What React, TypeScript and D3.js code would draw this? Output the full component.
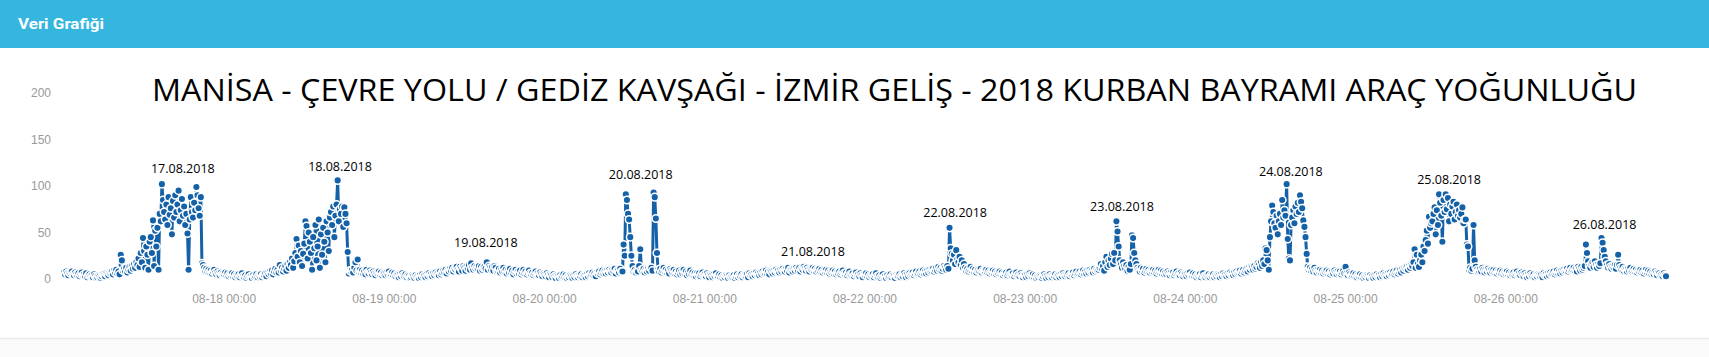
import React from 'react';
import * as d3 from 'd3';

// 10-minute samples, 144 per day (6 per hour)
const d17 = [
  7,5,8,6,4,7, 6,8,5,4,7,5, 4,6,3,5,7,4, 5,3,6,2,4,5,
  3,4,2,5,3,1, 2,4,3,1,3,5, 4,3,6,5,4,7, 6,8,5,9,7,10,
  6,8,5,26,20,9, 11,8,12,7,10,13, 9,14,11,16,12,18, 15,22,13,28,18,44,
  30,12,35,26,10,40, 45,28,63,14,52,35, 55,10,70,62,102,85, 72,64,80,58,88,69,
  76,48,84,66,90,72, 80,95,62,74,86,68, 78,58,70,49,10,64, 88,72,66,82,74,99,
  90,76,68,88,17,15, 12,9,11,8,10,7, 9,6,8,10,7,5, 8,6,4,7,5,6,
];
const d18 = [
  5,7,4,6,3,5, 4,6,3,5,2,4, 3,5,2,4,6,3, 2,4,1,3,5,2,
  3,1,4,2,3,5, 2,4,3,5,2,4, 4,6,3,7,5,8, 6,9,5,8,11,7,
  10,7,15,9,12,8, 11,14,9,16,12,18, 15,22,12,19,28,43, 24,36,18,30,14,27,
  38,62,57,22,50,40, 28,10,45,33,58,20, 35,64,12,48,26,55, 40,18,62,50,30,66,
  72,58,78,45,68,80, 106,62,75,70,78,56, 77,70,60,29,6,9, 8,10,7,12,18,9,
  21,8,10,7,9,6, 8,5,10,7,6,9, 7,5,8,6,4,7, 6,8,5,7,4,6,
];
const d19 = [
  6,4,7,5,8,5, 5,7,4,6,3,5, 4,2,5,3,6,4, 3,5,2,4,3,1,
  2,4,3,1,4,2, 3,1,4,2,5,3, 4,2,5,3,6,4, 5,3,6,4,7,5,
  6,4,8,5,7,9, 7,10,6,9,8,11, 9,12,8,11,10,13, 10,8,13,11,9,14,
  12,9,14,11,15,10, 17,12,10,14,11,13, 11,14,9,13,10,12, 13,11,18,10,14,12,
  10,13,9,14,12,8, 9,11,7,10,8,12, 8,10,6,9,7,11, 7,9,5,8,10,6,
  8,6,9,5,7,10, 6,8,5,7,9,6, 5,7,4,6,8,5, 6,4,7,5,3,6,
];
const d20 = [
  5,3,6,4,2,5, 4,2,5,3,1,4, 3,1,4,2,3,5, 2,4,1,3,2,4,
  3,1,4,2,5,3, 2,4,3,5,2,4, 4,2,5,3,6,4, 5,7,4,6,3,7,
  6,8,5,7,9,6, 8,6,9,7,10,8, 7,10,8,11,6,9, 9,7,11,8,8,37,
  25,91,85,70,64,45, 25,14,8,10,7,9, 8,14,32,10,9,11, 7,10,8,11,9,12,
  12,9,93,88,65,28, 10,8,11,7,9,12, 8,10,7,9,6,11, 9,7,10,6,8,5,
  7,9,5,8,6,10, 6,8,4,7,5,9, 5,7,4,6,3,6, 4,6,3,5,7,4,
];
const d21 = [
  5,3,6,4,2,5, 4,2,5,3,6,3, 3,5,2,4,1,3, 2,4,3,1,4,2,
  3,2,4,1,3,5, 2,4,3,5,2,4, 4,3,5,2,6,4, 5,3,6,4,7,5,
  6,4,7,5,8,6, 7,9,6,8,5,9, 8,6,9,7,10,8, 9,7,10,8,11,9,
  8,11,9,12,7,10, 10,8,11,9,12,10, 9,12,8,11,10,13, 11,9,12,10,8,11,
  10,12,9,11,8,10, 9,11,8,10,7,9, 8,10,7,9,6,8, 7,9,6,8,5,7,
  6,8,5,7,9,6, 5,7,4,6,8,5, 4,6,3,5,7,4, 5,3,6,4,2,5,
];
const d22 = [
  4,6,3,5,2,4, 3,5,2,4,6,3, 2,4,1,3,5,2, 3,1,4,2,3,5,
  2,4,3,1,4,3, 3,5,2,4,3,6, 4,2,5,3,6,4, 5,7,4,6,8,5,
  6,8,5,7,9,6, 8,6,9,7,10,8, 9,11,8,10,12,9, 13,10,12,9,11,14,
  12,10,14,11,55,33, 27,20,26,16,31,21, 18,24,15,20,12,16, 12,9,11,8,10,13,
  9,11,8,10,7,9, 10,8,11,7,9,8, 8,10,7,9,6,8, 7,9,6,8,5,7,
  6,8,5,7,4,6, 5,7,4,6,8,5, 4,6,3,5,7,4, 5,3,6,4,2,4,
];
const d23 = [
  4,2,5,3,6,4, 3,5,2,4,1,3, 2,4,3,1,3,5, 3,1,4,2,5,3,
  2,4,3,5,2,4, 4,2,5,3,6,4, 3,5,4,6,3,5, 5,7,4,6,8,5,
  6,8,5,7,9,6, 8,6,9,7,10,8, 9,7,11,8,10,9, 10,12,16,11,14,9,
  18,24,13,20,15,22, 27,16,28,20,62,51, 35,20,16,12,18,14, 11,15,9,13,10,16,
  47,44,28,20,16,12, 10,8,12,9,11,7, 9,11,8,10,7,9, 8,10,7,9,6,8,
  10,7,9,6,8,5, 7,5,8,6,4,7, 5,7,4,6,8,5, 6,4,7,5,3,5,
];
const d24 = [
  5,3,6,4,7,4, 4,6,3,5,2,4, 3,5,2,4,6,3, 2,4,3,5,2,4,
  3,5,2,4,3,5, 4,2,5,3,6,4, 5,3,6,4,7,5, 6,4,7,5,8,6,
  7,9,6,8,10,7, 9,11,8,12,10,13, 12,10,14,11,13,17, 15,12,18,14,20,16,
  33,31,20,10,45,62, 79,72,60,55,68,48, 62,70,58,85,66,74, 68,102,43,22,20,58,
  66,74,60,78,70,82, 72,90,83,76,63,56, 45,27,13,10,12,9, 11,8,12,9,7,10,
  8,10,7,9,6,8, 7,9,6,8,5,7, 8,6,9,7,5,8, 6,8,5,7,9,6,
];
const d25 = [
  13,6,4,7,5,3, 4,6,3,5,2,4, 3,5,2,4,1,3, 2,4,3,1,4,2,
  3,1,4,2,5,3, 4,2,5,3,6,4, 5,3,6,4,7,5, 6,8,5,7,9,6,
  8,10,7,11,9,12, 11,13,10,14,12,15, 14,18,32,12,26,16, 13,20,26,18,35,30,
  42,52,38,67,55,60, 62,70,77,48,74,58, 91,82,68,40,85,72, 91,75,87,62,80,70,
  78,83,64,72,80,68, 74,66,70,77,60,64, 64,37,35,10,12,9, 11,58,20,13,10,8,
  9,11,8,12,10,7, 10,8,11,9,7,10, 8,10,7,9,6,8, 7,9,6,8,5,7,
];
const d26 = [
  6,8,5,7,4,6, 5,7,4,6,8,5, 6,4,7,5,3,6, 4,2,5,3,6,4,
  3,5,2,4,3,5, 4,3,5,2,6,4, 5,3,6,4,7,5, 6,8,5,7,9,6,
  8,6,9,7,10,8, 9,11,8,10,12,9, 10,12,9,11,8,13, 11,9,13,10,12,14,
  37,28,19,14,12,16, 18,13,19,15,12,16, 14,17,44,39,31,24, 19,15,12,16,13,11,
  14,12,15,11,15,26, 15,12,10,13,9,11, 10,8,11,9,12,8, 9,11,8,10,7,9,
  8,10,7,9,6,8, 10,7,9,6,8,5, 7,5,8,6,4,7, 6,4,5,3,6,4,
];
const d27 = [3];

const xTickDays = [18, 19, 20, 21, 22, 23, 24, 25, 26];
const yTicks = [0, 50, 100, 150, 200];

const annotationTexts = ['17.08.2018', '18.08.2018', '19.08.2018', '20.08.2018', '21.08.2018', '22.08.2018', '23.08.2018', '24.08.2018', '25.08.2018', '26.08.2018'];
const annotationHours = [17.8, 17.35, 15.2, 14.4, 16.2, 13.5, 14.5, 15.8, 15.5, 14.8];
const annotationValues = [114, 116, 34.7, 107, 24.7, 67, 73.4, 110.8, 101.8, 53.8];

const TITLE = 'MANİSA - ÇEVRE YOLU / GEDİZ KAVŞAĞI - İZMİR GELİŞ - 2018 KURBAN BAYRAMI ARAÇ YOĞUNLUĞU';

const W = 1709;
const H = 357;
const STEP = 10 * 60 * 1000;
const DAY = 24 * 3600 * 1000;
const BLUE = '#1461a8';

export default function App() {
  const start = Date.UTC(2018, 7, 17);
  const days = [d17, d18, d19, d20, d21, d22, d23, d24, d25, d26, d27];
  const data: { t: Date; v: number }[] = [];
  days.forEach((arr, di) => {
    arr.forEach((v, i) => data.push({ t: new Date(start + di * DAY + i * STEP), v }));
  });
  const end = data[data.length - 1].t;

  const x = d3.scaleUtc().domain([new Date(start), end]).range([64, 1666]);
  const y = d3.scaleLinear().domain([0, 200]).range([279, 93]);
  const line = d3.line<{ t: Date; v: number }>().x((d) => x(d.t)).y((d) => y(d.v));
  const fmt = d3.utcFormat('%m-%d %H:%M');

  return (
    <div style={{ position: 'fixed', left: 0, top: 0, width: W, height: H, background: '#fff' }}>
      <svg width={W} height={H} style={{ display: 'block' }}>
        <rect x={0} y={0} width={W} height={48} fill="#35b6df" />
        <text x={18} y={28.5} fill="#fff" fontFamily="Roboto, 'Open Sans', sans-serif" fontWeight="bold" fontSize={15} textLength={86} lengthAdjust="spacingAndGlyphs">
          Veri Grafiği
        </text>
        <rect x={0} y={338} width={W} height={19} fill="#fafafa" />
        <line x1={0} x2={W} y1={338.5} y2={338.5} stroke="#ebebeb" strokeWidth={1.5} />

        <text x={152} y={101} fill="#000" fontFamily="'Open Sans', sans-serif" fontSize={31} textLength={1485} lengthAdjust="spacingAndGlyphs">
          {TITLE}
        </text>

        {yTicks.map((t) => (
          <text key={t} x={51} y={y(t) + 4} textAnchor="end" fill="#999" fontFamily="'Liberation Sans', Arial, sans-serif" fontSize={12}>
            {t}
          </text>
        ))}
        {xTickDays.map((dd) => {
          const dt = new Date(Date.UTC(2018, 7, dd));
          return (
            <text key={dd} x={x(dt)} y={303} textAnchor="middle" fill="#999" fontFamily="'Liberation Sans', Arial, sans-serif" fontSize={12}>
              {fmt(dt)}
            </text>
          );
        })}

        <path d={line(data) || ''} fill="none" stroke={BLUE} strokeWidth={3} strokeLinejoin="round" />
        {data.map((d, i) => (
          <circle key={i} cx={x(d.t)} cy={y(d.v)} r={3.8} fill={BLUE} stroke="#fff" strokeWidth={1.5} />
        ))}

        {annotationTexts.map((txt, i) => {
          const t = new Date(start + i * DAY + annotationHours[i] * 3600 * 1000);
          return (
            <text key={txt} x={x(t)} y={y(annotationValues[i])} textAnchor="middle" fill="#000" fontFamily="'Open Sans', sans-serif" fontSize={12.5}>
              {txt}
            </text>
          );
        })}
      </svg>
    </div>
  );
}
